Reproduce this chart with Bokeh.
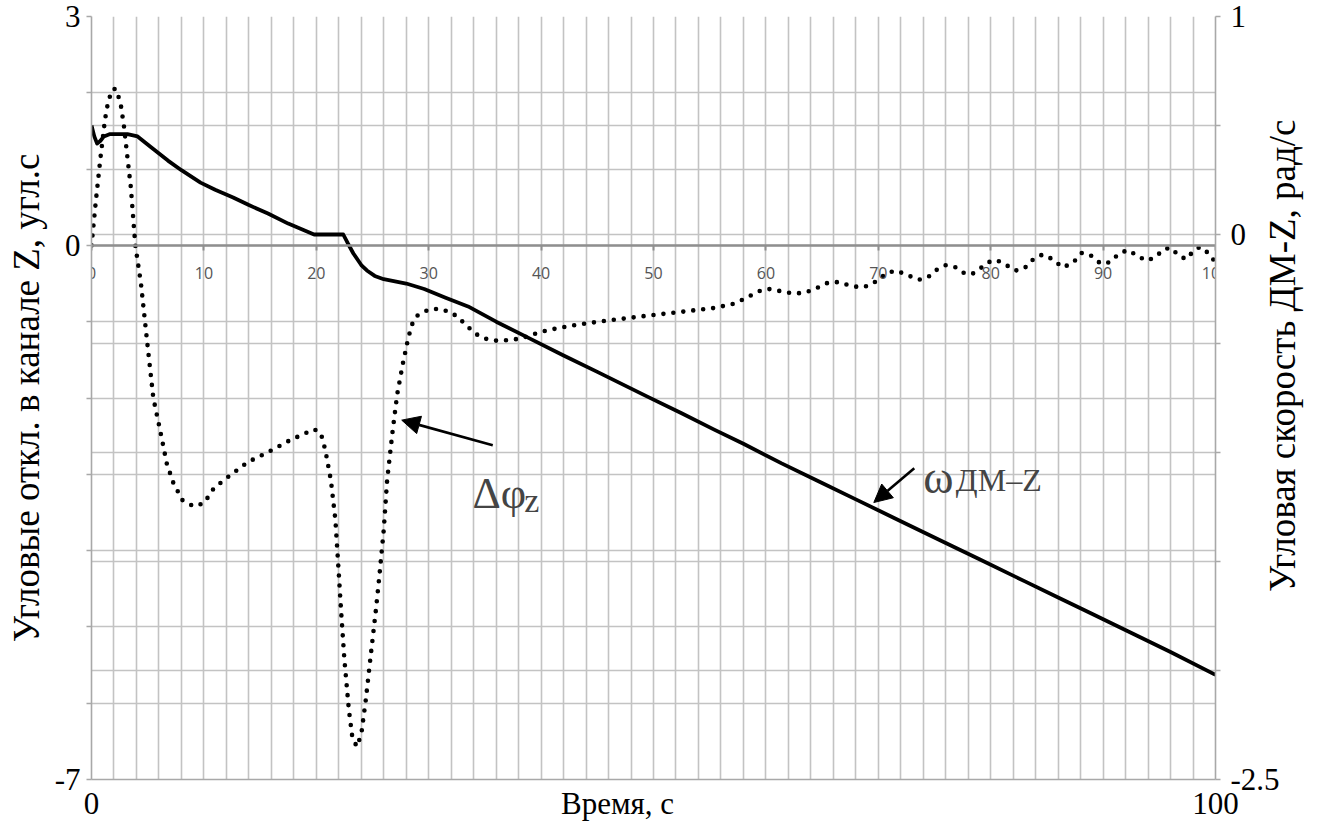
import math
from bokeh.plotting import figure
from bokeh.models import (Range1d, LinearAxis, FixedTicker, Grid, Label,
                          Arrow, NormalHead)
from bokeh.embed import file_html
from bokeh.resources import INLINE

# ---------------- data ----------------
# Δφz (left axis, угл.с) -- dotted
phi_t = [0, 0.4, 0.8, 1.2, 1.5, 1.9, 2.2, 2.6, 2.9, 3.2, 3.5, 3.9, 4.4, 5.0, 5.5, 6.1, 6.7,
         7.3, 8.1, 9.1, 10.0, 10.9, 12.1, 13.9, 15.7, 17.7, 19.8, 20.4, 20.8, 21.3, 21.7,
         22.0, 22.2, 22.5, 22.9, 23.2, 23.6, 24.0, 24.4, 24.8, 25.3, 25.6, 26.0, 26.3, 26.8,
         27.2, 27.7, 28.2, 28.6, 29.0, 30.0, 31.0, 32.0, 32.6, 33.5, 34.4, 35.2, 36.1, 37.2,
         38.2, 39.4, 40.6, 42.8, 45.1, 47.3, 49.5, 52.5, 55.4, 57.0, 57.8, 58.6, 59.4, 60.2,
         61.0, 61.6, 62.5, 63.5, 64.5, 65.5, 66.5, 67.5, 68.5, 69.3, 70.0, 70.8, 71.6, 72.6,
         73.6, 74.4, 75.2, 76.0, 76.8, 77.6, 78.3, 79.0, 79.8, 80.5, 81.3, 82.2, 83.0, 83.8,
         84.6, 85.5, 86.4, 87.3, 88.1, 88.8, 89.8, 90.6, 91.4, 92.2, 93.0, 93.8, 94.6, 95.4,
         96.0, 96.8, 97.4, 98.0, 98.6, 99.2, 100.0]
phi_v = [0.0, 0.6, 1.15, 1.65, 1.9, 2.05, 2.05, 1.85, 1.55, 1.15, 0.76, 0.0, -0.5, -1.33,
         -2.0, -2.42, -2.86, -3.12, -3.34, -3.42, -3.38, -3.18, -3.04, -2.84, -2.71, -2.55,
         -2.41, -2.46, -2.68, -3.08, -3.6, -4.3, -4.78, -5.43, -6.09, -6.44, -6.57, -6.41,
         -5.96, -5.43, -4.78, -4.35, -3.73, -3.08, -2.42, -1.95, -1.55, -1.2, -1.0, -0.92,
         -0.84, -0.83, -0.88, -0.94, -1.07, -1.18, -1.23, -1.25, -1.24, -1.22, -1.16, -1.11,
         -1.05, -1.0, -0.96, -0.92, -0.87, -0.82, -0.77, -0.72, -0.66, -0.6, -0.57, -0.59,
         -0.61, -0.63, -0.62, -0.56, -0.49, -0.48, -0.53, -0.55, -0.52, -0.45, -0.36, -0.33,
         -0.39, -0.45, -0.42, -0.32, -0.26, -0.28, -0.36, -0.38, -0.31, -0.22, -0.19, -0.25,
         -0.33, -0.3, -0.18, -0.12, -0.18, -0.29, -0.23, -0.1, -0.12, -0.24, -0.22, -0.11,
         -0.06, -0.13, -0.2, -0.16, -0.05, -0.03, -0.14, -0.18, -0.08, -0.02, -0.08, -0.22]

# ω ДМ-Z (right axis, рад/с) -- solid
om_t = [0, 0.25, 0.5, 0.8, 1.1, 1.6, 2.2, 3.2, 4.1, 5.3, 6.8, 8.0, 9.7, 11.0, 12.6, 14.0,
        15.7, 17.5, 19.8, 22.4, 22.8, 23.3, 24.0, 24.5, 25.2, 26.0, 27.0, 28.0, 29.6, 31.5,
        33.5, 36.0, 39.1, 42.0, 45.0, 49.5, 52.5, 55.4, 58.0, 61.4, 65.0, 68.0, 72.0, 76.0,
        79.0, 83.0, 86.0, 89.0, 92.8, 96.0, 100.0]
om_v = [0.50, 0.45, 0.417, 0.43, 0.45, 0.46, 0.46, 0.46, 0.45, 0.40, 0.339, 0.295, 0.238,
        0.205, 0.17, 0.135, 0.096, 0.05, 0.0, 0.0, -0.04, -0.087, -0.14, -0.165, -0.19,
        -0.205, -0.215, -0.225, -0.25, -0.29, -0.33, -0.40, -0.48, -0.555, -0.63, -0.745,
        -0.82, -0.895, -0.96, -1.05, -1.14, -1.215, -1.315, -1.415, -1.49, -1.59, -1.665,
        -1.74, -1.835, -1.915, -2.02]

left_ticks = list(range(-7, 4))
left_labels = {"3": "3", "0": "0", "-7": "-7"}
right_ticks = [-2.5, -2.0, -1.5, -1.0, -0.5, 0.0, 0.5, 1.0]
right_labels = {"1": "1", "0": "0", "-2.5": "-2.5"}
x_grid_ticks = list(range(0, 101, 2))
zero_axis_ticks = list(range(0, 101, 10))
x_title = "Время, с"
x_title_pos = 46.8
bottom_ticks = [0, x_title_pos, 100]
bottom_labels = {0: "0", x_title_pos: x_title, 100: "100"}
left_title = "Угловые откл. в канале Z, угл.с"
right_title = "Угловая скорость ДМ-Z, рад/с"
right_title_start = -1.64   # (right-axis units) where the rotated title begins

SERIF = "Liberation Serif"
GRID = "#c3c3c3"
AXIS = "#a8a8a8"

p = figure(width=1328, height=823, x_range=Range1d(0, 100), y_range=Range1d(-7, 3),
           output_backend="svg", toolbar_location=None,
           min_border_left=91, min_border_right=113, min_border_top=16, min_border_bottom=43,
           x_axis_location=None, y_axis_location=None)
p.outline_line_color = None
p.background_fill_color = "white"
p.border_fill_color = "white"
p.extra_y_ranges = {"right": Range1d(-2.5, 1)}

# grids
p.xgrid.ticker = FixedTicker(ticks=x_grid_ticks)
p.ygrid.ticker = FixedTicker(ticks=left_ticks)
for g in (p.xgrid, p.ygrid):
    g.grid_line_color = GRID
    g.grid_line_width = 1.6
rgrid = Grid(dimension=1, ticker=FixedTicker(ticks=right_ticks), y_range_name="right",
             grid_line_color=GRID, grid_line_width=1.6)
p.add_layout(rgrid)

# axes
def style_axis(ax, size="31px"):
    ax.axis_line_color = AXIS
    ax.axis_line_width = 1.6
    ax.major_tick_line_color = AXIS
    ax.major_tick_line_width = 1.4
    ax.minor_tick_line_color = None
    ax.major_label_text_font = SERIF
    ax.major_label_text_font_size = size
    ax.major_label_text_color = "black"
    ax.axis_label_text_font = SERIF
    ax.axis_label_text_font_size = "37px"
    ax.axis_label_text_font_style = "normal"
    ax.axis_label_text_color = "black"

left_ax = LinearAxis(ticker=FixedTicker(ticks=left_ticks), axis_label=left_title)
left_ax.major_label_overrides = {t: left_labels.get(str(t), "") for t in left_ticks}
style_axis(left_ax)
left_ax.major_tick_out = 5
left_ax.major_tick_in = 0
left_ax.major_label_standoff = 6
left_ax.axis_label_standoff = 5
p.add_layout(left_ax, "left")

right_ax = LinearAxis(y_range_name="right", ticker=FixedTicker(ticks=right_ticks))
right_ax.major_label_overrides = {t: right_labels.get(("%g" % t), "") for t in right_ticks}
style_axis(right_ax)
right_ax.major_tick_out = 5
right_ax.major_tick_in = 0
right_ax.major_label_standoff = 10
p.add_layout(right_ax, "right")

# right-hand title, drawn as a rotated label of an extra (invisible) axis
rt_ax = LinearAxis(y_range_name="right", ticker=FixedTicker(ticks=[right_title_start]))
rt_ax.major_label_overrides = {right_title_start: right_title}
rt_ax.axis_line_color = None
rt_ax.major_tick_line_color = None
rt_ax.minor_tick_line_color = None
rt_ax.major_tick_in = 0
rt_ax.major_tick_out = 0
rt_ax.major_label_orientation = math.pi / 2
rt_ax.major_label_standoff = 0
rt_ax.major_label_text_font = SERIF
rt_ax.major_label_text_font_size = "37px"
rt_ax.major_label_text_color = "black"
p.add_layout(rt_ax, "right")

bottom_ax = LinearAxis(ticker=FixedTicker(ticks=bottom_ticks))
bottom_ax.major_label_overrides = bottom_labels
style_axis(bottom_ax, size="31px")
bottom_ax.major_tick_out = 0
bottom_ax.major_tick_in = 0
bottom_ax.major_label_standoff = 6
p.add_layout(bottom_ax, "below")

# zero axis of the left chart (grey, small sans labels below the line)
zero_ax = LinearAxis(ticker=FixedTicker(ticks=zero_axis_ticks), fixed_location=0)
zero_ax.axis_line_color = "#8f8f8f"
zero_ax.axis_line_width = 2.6
zero_ax.major_tick_line_color = "#8f8f8f"
zero_ax.major_tick_line_width = 2
zero_ax.major_tick_in = 5
zero_ax.major_tick_out = 0
zero_ax.minor_tick_line_color = None
zero_ax.major_label_standoff = -34
zero_ax.major_label_text_font = "Open Sans"
zero_ax.major_label_text_font_size = "16px"
zero_ax.major_label_text_color = "#555555"
p.add_layout(zero_ax, "above")

# series
p.line(om_t, om_v, y_range_name="right", line_color="black", line_width=3.8,
       line_join="round")
p.line(phi_t, phi_v, line_color="black", line_width=4.6, line_dash="0 10",
       line_cap="round")

# annotations
p.add_layout(Arrow(end=NormalHead(size=18, fill_color="black", line_color="black"),
                   x_start=35.7, y_start=-2.62, x_end=27.6, y_end=-2.29,
                   line_color="black", line_width=2.6))
p.add_layout(Arrow(end=NormalHead(size=18, fill_color="black", line_color="black"),
                   x_start=73.2, y_start=-2.92, x_end=69.6, y_end=-3.37,
                   line_color="black", line_width=2.6))

p.add_layout(Label(x=33.9, y=-3.25, text="Δφ", text_font=SERIF, text_font_size="44px",
                   text_baseline="alphabetic", text_align="left"))
p.add_layout(Label(x=38.5, y=-3.34, text="z", text_font=SERIF, text_font_size="34px",
                   text_baseline="alphabetic", text_align="left"))
p.add_layout(Label(x=74.0, y=-3.04, text="ω", text_font=SERIF, text_font_size="46px",
                   text_baseline="alphabetic", text_align="left"))
p.add_layout(Label(x=76.9, y=-3.08, text="ДМ–Z", text_font=SERIF, text_font_size="32px",
                   text_baseline="alphabetic", text_align="left"))

open("out.html", "w").write(file_html(p, INLINE))
